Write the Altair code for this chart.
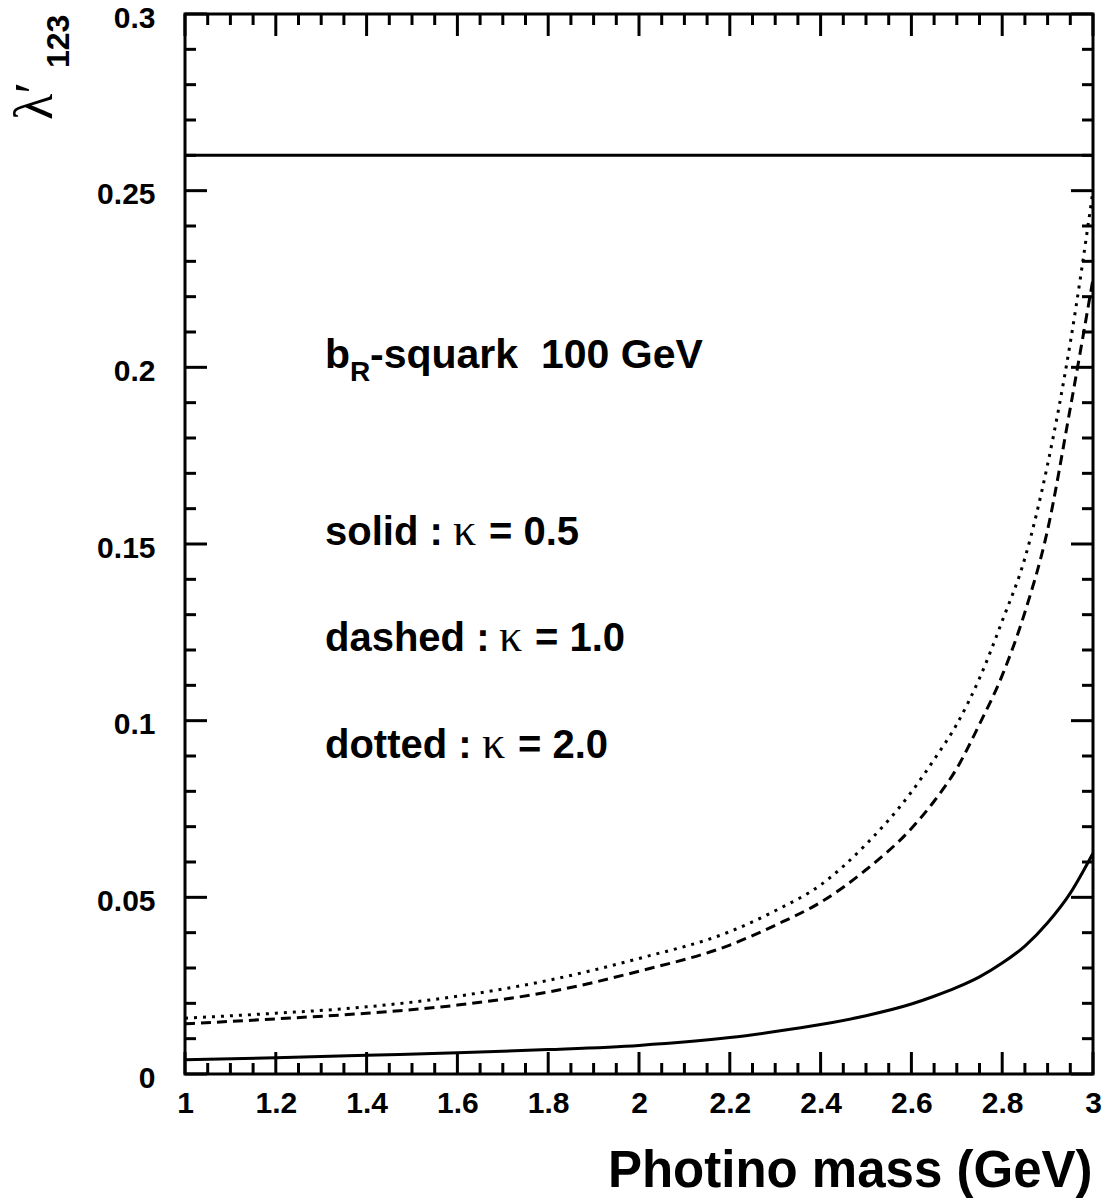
import altair as alt
import pandas as pd

# ---- data ----
mass = [1.0, 1.2, 1.4, 1.6, 1.8, 2.0, 2.2, 2.3, 2.4, 2.5, 2.6, 2.65, 2.7, 2.75, 2.8, 2.85,
        2.9, 2.95, 3.0]
kappa_05 = [0.0040, 0.0046, 0.0053, 0.0060, 0.0069, 0.0081, 0.0103, 0.0120, 0.0140, 0.0165,
            0.0198, 0.0220, 0.0245, 0.0275, 0.0314, 0.0362, 0.0428, 0.0512, 0.0625]
kappa_10 = [0.0142, 0.0156, 0.0172, 0.0195, 0.0232, 0.0291, 0.0365, 0.0421, 0.0486, 0.0578,
            0.0695, 0.0772, 0.0865, 0.0990, 0.1128, 0.1307, 0.1540, 0.1885, 0.2250]
kappa_20 = [0.0158, 0.0172, 0.0190, 0.0220, 0.0265, 0.0327, 0.0403, 0.0462, 0.0535, 0.0650,
            0.0798, 0.0890, 0.0990, 0.1120, 0.1282, 0.1460, 0.1725, 0.2070, 0.2500]
limit = 0.26

x_major = [1.0, 1.2, 1.4, 1.6, 1.8, 2.0, 2.2, 2.4, 2.6, 2.8, 3.0]
x_minor = [round(1 + 0.05 * i, 2) for i in range(41) if i % 4]
y_major = [0.0, 0.05, 0.1, 0.15, 0.2, 0.25, 0.3]
y_minor = [round(0.01 * i, 2) for i in range(31) if i % 5]

W, H = 908, 1060
OX, OY = 185, 14  # plot origin on the page
FONT = "Liberation Sans"
SERIF = "Liberation Serif"

xs = alt.Scale(domain=[1, 3], nice=False, zero=False)
ys = alt.Scale(domain=[0, 0.3], nice=False, zero=False)

curves = pd.DataFrame({"m": mass, "k05": kappa_05, "k10": kappa_10, "k20": kappa_20})

x_axis = alt.Axis(values=x_major, format="~g", labelFont=FONT, labelFontWeight="bold",
                  labelFontSize=30, labelColor="black", labelPadding=14, labelFlush=False,
                  labelOverlap=False, ticks=False, tickSize=0, domain=False, grid=False,
                  title="Photino mass (GeV)", titleFont=FONT, titleFontSize=51,
                  titleFontWeight="bold", titleColor="black", titleAnchor="end",
                  titleAlign="right", titleBaseline="alphabetic", titleX=907, titleY=112)
y_axis = alt.Axis(values=y_major, format="~g", labelFont=FONT, labelFontWeight="bold",
                  labelFontSize=30, labelColor="black", labelPadding=30, labelFlush=False,
                  labelOverlap=False, labelOffset=4, ticks=False, tickSize=0, domain=False,
                  grid=False, title="")

X = lambda f: alt.X(f, scale=xs, axis=x_axis)
Y = lambda f: alt.Y(f, scale=ys, axis=y_axis)

base = alt.Chart(curves)
solid = base.mark_line(color="black", strokeWidth=3, interpolate="monotone").encode(
    x=X("m:Q"), y=Y("k05:Q"))
dashed = base.mark_line(color="black", strokeWidth=3, interpolate="monotone",
                        strokeDash=[10, 6]).encode(x=X("m:Q"), y=Y("k10:Q"))
dotted = base.mark_line(color="black", strokeWidth=3, interpolate="monotone",
                        strokeDash=[3, 6]).encode(x=X("m:Q"), y=Y("k20:Q"))
hline = alt.Chart(pd.DataFrame({"y": [limit]})).mark_rule(color="black", strokeWidth=3).encode(
    y=Y("y:Q"))

def xticks(vals, length):
    d = alt.Chart(pd.DataFrame({"m": vals}))
    bot = d.mark_rule(color="black", strokeWidth=3).encode(
        x=X("m:Q"), y=alt.value(H), y2=alt.value(H - length))
    top = d.mark_rule(color="black", strokeWidth=3).encode(
        x=X("m:Q"), y=alt.value(0), y2=alt.value(length))
    return [bot, top]

def yticks(vals, length):
    d = alt.Chart(pd.DataFrame({"y": vals}))
    left = d.mark_rule(color="black", strokeWidth=3).encode(
        y=Y("y:Q"), x=alt.value(0), x2=alt.value(length))
    right = d.mark_rule(color="black", strokeWidth=3).encode(
        y=Y("y:Q"), x=alt.value(W), x2=alt.value(W - length))
    return [left, right]

def txt(s, px, py, size, font=FONT, weight="bold", angle=0):
    return alt.Chart(pd.DataFrame({"t": [s]})).mark_text(
        font=font, fontSize=size, fontWeight=weight, angle=angle, align="left",
        baseline="alphabetic", color="black").encode(
        text="t:N", x=alt.value(px - OX), y=alt.value(py - OY))

texts = [
    txt("b", 325, 368, 41),
    txt("R", 350, 381, 28),
    txt("-squark", 370, 368, 41),
    txt("100 GeV", 541, 368, 41),
    txt("solid :", 325, 545, 40),
    txt("\u03ba", 453, 545, 46, font=SERIF, weight="normal"),
    txt("= 0.5", 489, 545, 40),
    txt("dashed :", 325, 651, 40),
    txt("\u03ba", 499, 651, 46, font=SERIF, weight="normal"),
    txt("= 1.0", 535, 651, 40),
    txt("dotted :", 325, 758, 40),
    txt("\u03ba", 482, 758, 46, font=SERIF, weight="normal"),
    txt("= 2.0", 518, 758, 40),
    # y-axis title: lambda' with subscript 123, rotated
    txt("\u03bb\u2032", 52, 120, 54, font=SERIF, weight="normal", angle=270),
    txt("123", 69, 68, 32, angle=270),
]

layers = [solid, dashed, dotted, hline]
layers += xticks(x_major, 22) + xticks(x_minor, 11)
layers += yticks(y_major, 22) + yticks(y_minor, 11)
layers += texts

chart = alt.layer(*layers).properties(
    width=W, height=H,
    autosize=alt.AutoSizeParams(type="none"),
    padding={"left": 177, "top": 6, "right": 9, "bottom": 124},
).configure_view(stroke="black", strokeWidth=3)

chart.save("out.html", embed_options={"renderer": "svg", "actions": False})
